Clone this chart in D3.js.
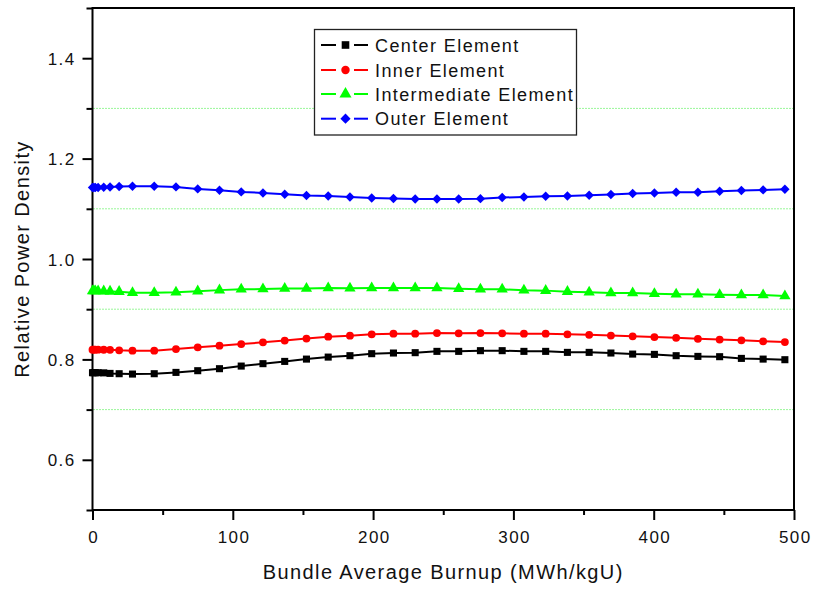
<!DOCTYPE html>
<html>
<head>
<meta charset="utf-8">
<script src="https://cdn.jsdelivr.net/npm/d3@7"></script>
<style>
  body { margin: 0; background: #fff; }
  svg text { font-family: "Liberation Sans", Arial, sans-serif; fill: #111; letter-spacing: 1.4px; }
</style>
</head>
<body>
<svg id="chart" width="814" height="589"></svg>
<script>
// burnup (MWh/kgU)
var burnup = [0, 1, 2, 4, 8, 12.5, 19, 28.5, 44, 59.5, 75, 90.5, 106, 121.5, 137, 152.5, 168, 183.5, 199,
              214.5, 230, 245.5, 261, 276.5, 292, 307.5, 323, 338.5, 354, 369.5, 385, 400.5, 416, 431.5,
              447, 462.5, 478, 493.5];

var centerElem = [0.7735, 0.7735, 0.7735, 0.7735, 0.7732, 0.7721, 0.7715, 0.7708, 0.7715, 0.7741, 0.7775,
                  0.7815, 0.7867, 0.7915, 0.796, 0.8006, 0.8046, 0.8074, 0.8114, 0.8127, 0.8134, 0.816,
                  0.816, 0.8174, 0.8174, 0.816, 0.816, 0.814, 0.814, 0.8127, 0.8106, 0.81, 0.8074, 0.806,
                  0.8054, 0.802, 0.8006, 0.7994];

var innerElem = [0.8194, 0.8194, 0.8194, 0.8194, 0.8192, 0.819, 0.818, 0.8174, 0.8174, 0.8206, 0.824,
                 0.8274, 0.8306, 0.834, 0.8375, 0.8415, 0.8453, 0.8473, 0.8499, 0.8513, 0.8513, 0.8525,
                 0.852, 0.8525, 0.852, 0.8513, 0.8513, 0.850, 0.849, 0.8475, 0.846, 0.8445, 0.843, 0.841,
                 0.8395, 0.838, 0.836, 0.8345];

var intermElem = [0.9362, 0.9362, 0.9362, 0.9362, 0.936, 0.9355, 0.935, 0.933, 0.933, 0.9336, 0.936,
                  0.938, 0.9396, 0.940, 0.941, 0.941, 0.942, 0.9416, 0.942, 0.942, 0.942, 0.942, 0.9405,
                  0.9395, 0.9396, 0.9376, 0.937, 0.935, 0.9336, 0.9322, 0.9322, 0.931, 0.9296, 0.9296,
                  0.929, 0.9282, 0.9282, 0.9262];

var outerElem = [1.1424, 1.1424, 1.1424, 1.1424, 1.143, 1.1435, 1.1445, 1.145, 1.145, 1.1436, 1.1396,
                 1.137, 1.1336, 1.1316, 1.129, 1.1264, 1.1256, 1.1236, 1.1216, 1.1204, 1.1196, 1.1196,
                 1.1196, 1.1202, 1.1224, 1.1236, 1.125, 1.1256, 1.127, 1.1284, 1.1304, 1.1316, 1.133,
                 1.133, 1.135, 1.1364, 1.1376, 1.139];

var seriesNames = ["Center Element", "Inner Element", "Intermediate Element", "Outer Element"];
var seriesColors = ["#000000", "#ff0000", "#00ff00", "#0000ff"];
// diamond = square turned 45deg
var seriesSymbols = [d3.symbolSquare, d3.symbolCircle, d3.symbolTriangle, d3.symbolSquare];
var symbolRotate = [0, 0, 0, 45];
var symbolSizes = [50, 48, 55, 44];

var xTicks = [0, 100, 200, 300, 400, 500];
var xMinor = [50, 150, 250, 350, 450];
var yTicks = [0.6, 0.8, 1.0, 1.2, 1.4];
var yMinor = [0.5, 0.7, 0.9, 1.1, 1.3, 1.5];
var gridVals = [0.7, 0.9, 1.1, 1.3];

d3.select(window).on('load', init);

function init() {
  var svg = d3.select('#chart');
  var pL = 92.5, pR = 794, pT = 8, pB = 510;

  var xScale = d3.scaleLinear().domain([0, 500]).range([pL, pR]);
  var yScale = d3.scaleLinear().domain([0.5, 1.5]).range([pB, pT]);

  // dotted grid
  svg.append('g')
    .selectAll('line')
    .data(gridVals)
    .enter()
    .append('line')
    .attr('x1', pL + 1)
    .attr('x2', pR - 1)
    .attr('y1', function(d){ return yScale(d); })
    .attr('y2', function(d){ return yScale(d); })
    .attr('stroke', '#33ee33')
    .attr('stroke-width', 1)
    .attr('stroke-dasharray', '1,2');

  // axes
  var yAxis = svg.append('g')
    .attr('transform', 'translate(' + pL + ',0)')
    .call(d3.axisLeft(yScale).tickValues(yTicks).tickSize(10).tickPadding(7).tickFormat(d3.format('.1f')));
  yAxis.select('.domain').remove();
  yAxis.selectAll('text').style('font-size', '17px').attr('dy', '0.36em');
  yAxis.selectAll('line').attr('stroke-width', 2);

  var yAxisMinor = svg.append('g')
    .attr('transform', 'translate(' + pL + ',0)')
    .call(d3.axisLeft(yScale).tickValues(yMinor).tickSize(6).tickFormat(''));
  yAxisMinor.select('.domain').remove();
  yAxisMinor.selectAll('line').attr('stroke-width', 2);

  var xAxis = svg.append('g')
    .attr('transform', 'translate(0,' + pB + ')')
    .call(d3.axisBottom(xScale).tickValues(xTicks).tickSize(10).tickPadding(11));
  xAxis.select('.domain').remove();
  xAxis.selectAll('text').style('font-size', '17px').attr('dx', '0.7px');
  xAxis.selectAll('line').attr('stroke-width', 2);

  var xAxisMinor = svg.append('g')
    .attr('transform', 'translate(0,' + pB + ')')
    .call(d3.axisBottom(xScale).tickValues(xMinor).tickSize(5).tickFormat(''));
  xAxisMinor.select('.domain').remove();
  xAxisMinor.selectAll('line').attr('stroke-width', 2);

  // frame
  svg.append('rect')
    .attr('x', pL)
    .attr('y', pT)
    .attr('width', pR - pL)
    .attr('height', pB - pT)
    .attr('fill', 'none')
    .attr('stroke', '#000')
    .attr('stroke-width', 2);

  // series
  var allSeries = [centerElem, innerElem, intermElem, outerElem];
  var line = d3.line()
    .x(function(d){ return xScale(d.x); })
    .y(function(d){ return yScale(d.y); });

  allSeries.forEach(function(vals, i){
    var pts = burnup.map(function(b, j){ return {x: b, y: vals[j]}; });
    var g = svg.append('g');
    g.append('path')
      .datum(pts)
      .attr('d', line)
      .attr('fill', 'none')
      .attr('stroke', seriesColors[i])
      .attr('stroke-width', 2);
    g.selectAll('path.pt')
      .data(pts)
      .enter()
      .append('path')
      .attr('class', 'pt')
      .attr('d', d3.symbol().type(seriesSymbols[i]).size(symbolSizes[i]))
      .attr('transform', function(d){
        return 'translate(' + xScale(d.x) + ',' + yScale(d.y) + ') rotate(' + symbolRotate[i] + ')';
      })
      .attr('fill', seriesColors[i]);
  });

  // legend
  var legend = svg.append('g');
  legend.append('rect')
    .attr('x', 314.5)
    .attr('y', 29.5)
    .attr('width', 262)
    .attr('height', 105.5)
    .attr('fill', '#fff')
    .attr('stroke', '#222')
    .attr('stroke-width', 1.3);

  var legendY = [45, 70, 94, 118.7];
  seriesNames.forEach(function(name, i){
    var ly = legendY[i];
    legend.append('line')
      .attr('x1', 321).attr('x2', 336).attr('y1', ly).attr('y2', ly)
      .attr('stroke', seriesColors[i]).attr('stroke-width', 2);
    legend.append('line')
      .attr('x1', 354).attr('x2', 368).attr('y1', ly).attr('y2', ly)
      .attr('stroke', seriesColors[i]).attr('stroke-width', 2);
    legend.append('path')
      .attr('d', d3.symbol().type(seriesSymbols[i]).size(symbolSizes[i] + 8))
      .attr('transform', 'translate(345.5,' + ly + ') rotate(' + symbolRotate[i] + ')')
      .attr('fill', seriesColors[i]);
    legend.append('text')
      .attr('x', 375)
      .attr('y', ly + 6.5)
      .style('font-size', '18px')
      .text(name);
  });

  // axis titles
  svg.append('text')
    .attr('x', (pL + pR) / 2)
    .attr('y', 579)
    .attr('text-anchor', 'middle')
    .style('font-size', '20px')
    .text('Bundle Average Burnup (MWh/kgU)');

  svg.append('text')
    .attr('transform', 'translate(29,' + ((pT + pB) / 2) + ') rotate(-90)')
    .attr('text-anchor', 'middle')
    .style('font-size', '20px')
    .text('Relative Power Density');
}
</script>
</body>
</html>
